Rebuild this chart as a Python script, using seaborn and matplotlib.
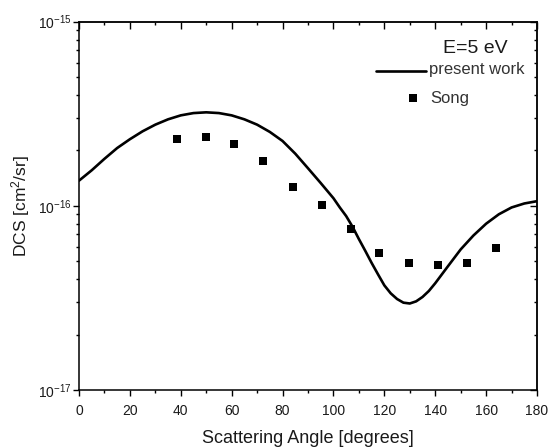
import matplotlib
matplotlib.use("Agg")
import matplotlib.pyplot as plt
import seaborn as sns
import pandas as pd
from matplotlib.ticker import MultipleLocator, LogLocator, NullFormatter, FixedLocator

# --- data ---
theory_angle = [0, 5, 10, 15, 20, 25, 30, 35, 40, 45, 50, 55, 60, 65, 70, 75, 80,
                85, 90, 95, 100, 102.5, 105, 107.5, 110, 112.5, 115, 117.5, 120,
                122.5, 125, 127.5, 130, 132.5, 135, 137.5, 140, 145, 150, 155, 160,
                165, 170, 175, 180]
theory_dcs = [1.37e-16, 1.56e-16, 1.80e-16, 2.06e-16, 2.30e-16, 2.54e-16, 2.76e-16,
              2.95e-16, 3.10e-16, 3.19e-16, 3.22e-16, 3.19e-16, 3.10e-16, 2.95e-16,
              2.76e-16, 2.52e-16, 2.25e-16, 1.92e-16, 1.60e-16, 1.33e-16, 1.10e-16,
              9.8e-17, 8.8e-17, 7.7e-17, 6.6e-17, 5.7e-17, 4.9e-17, 4.25e-17, 3.7e-17,
              3.35e-17, 3.12e-17, 2.98e-17, 2.95e-17, 3.03e-17, 3.2e-17, 3.45e-17,
              3.8e-17, 4.7e-17, 5.8e-17, 6.9e-17, 8.0e-17, 9.0e-17, 9.8e-17,
              1.03e-16, 1.06e-16]
song_angle = [38.5, 50, 61, 72.5, 84, 95.5, 107, 118, 129.5, 141, 152.5, 164]
song_dcs = [2.32e-16, 2.37e-16, 2.17e-16, 1.76e-16, 1.26e-16, 1.01e-16, 7.49e-17,
            5.52e-17, 4.91e-17, 4.77e-17, 4.89e-17, 5.94e-17]
x_ticks = [0, 20, 40, 60, 80, 100, 120, 140, 160, 180]
y_ticks = [1e-17, 1e-16, 1e-15]
legend_title = "E=5 eV"
series_names = ["present work", "Song"]

sns.set_theme(style="ticks")
plt.rcParams['font.family'] = ['Liberation Sans', 'DejaVu Sans']
plt.rcParams['mathtext.fontset'] = 'custom'
plt.rcParams['mathtext.rm'] = 'Liberation Sans'
plt.rcParams['mathtext.it'] = 'Liberation Sans'

fig = plt.figure(figsize=(5.5, 4.48), dpi=100)
ax = fig.add_axes([0.1436, 1 - 390 / 448, 0.8328, (390 - 21.7) / 448])

df_t = pd.DataFrame({"angle": theory_angle, "dcs": theory_dcs})
df_s = pd.DataFrame({"angle": song_angle, "dcs": song_dcs})

sns.lineplot(data=df_t, x="angle", y="dcs", ax=ax, color="black", lw=1.9,
             legend=False)
sns.scatterplot(data=df_s, x="angle", y="dcs", ax=ax, color="black", marker="s",
                s=30, edgecolor="black", linewidth=0, legend=False)

ax.set_yscale("log")
ax.set_xlim(0, 180)
ax.set_ylim(1e-17, 1e-15)
ax.set_xticks(x_ticks)
ax.yaxis.set_major_locator(FixedLocator(y_ticks))
ax.xaxis.set_minor_locator(MultipleLocator(10))
ax.yaxis.set_minor_locator(LogLocator(base=10, subs=range(2, 10)))
ax.yaxis.set_minor_formatter(NullFormatter())

ax.tick_params(which="both", direction="out", colors="black", labelsize=10,
               labelcolor="#1a1a1a")
ax.tick_params(axis="x", which="major", length=4.5, width=1, pad=5.5)
ax.tick_params(axis="x", which="minor", length=2.5, width=1)
ax.tick_params(axis="y", which="major", length=4.5, width=1, pad=1)
ax.tick_params(axis="y", which="minor", length=2, width=1)
for s in ax.spines.values():
    s.set_color("black")
    s.set_linewidth(1.1)

# inward ticks on top and right
top = ax.secondary_xaxis("top")
top.set_xticks(x_ticks)
top.xaxis.set_minor_locator(MultipleLocator(10))
top.tick_params(which="both", direction="in", labeltop=False, colors="black")
top.tick_params(which="major", length=5, width=1)
top.tick_params(which="minor", length=2.5, width=1)
top.spines["top"].set_linewidth(1.1)

right = ax.secondary_yaxis("right")
right.yaxis.set_major_locator(FixedLocator(y_ticks))
right.yaxis.set_minor_locator(LogLocator(base=10, subs=range(2, 10)))
right.tick_params(which="both", direction="in", labelright=False, colors="black")
right.tick_params(which="major", length=5, width=1)
right.tick_params(which="minor", length=2.5, width=1)
right.spines["right"].set_linewidth(1.1)

ax.set_xlabel("Scattering Angle [degrees]", fontsize=13, color="#1a1a1a", labelpad=9)
ax.set_ylabel("DCS [cm$^2$/sr]", fontsize=12.5, color="#1a1a1a", labelpad=4)

# legend block (upper right)
ax.text(0.935, 0.928, legend_title, transform=ax.transAxes, ha="right",
        va="center", fontsize=14, color="#1a1a1a")
ax.plot([0.648, 0.757], [0.866, 0.866], transform=ax.transAxes, color="black",
        lw=1.9)
ax.text(0.764, 0.871, series_names[0], transform=ax.transAxes, ha="left",
        va="center", fontsize=12, color="#333333")
ax.scatter([0.729], [0.792], transform=ax.transAxes, color="black", marker="s",
           s=30, linewidths=0)
ax.text(0.766, 0.792, series_names[1], transform=ax.transAxes, ha="left",
        va="center", fontsize=12, color="#333333")

fig.savefig("out.png", dpi=100)
